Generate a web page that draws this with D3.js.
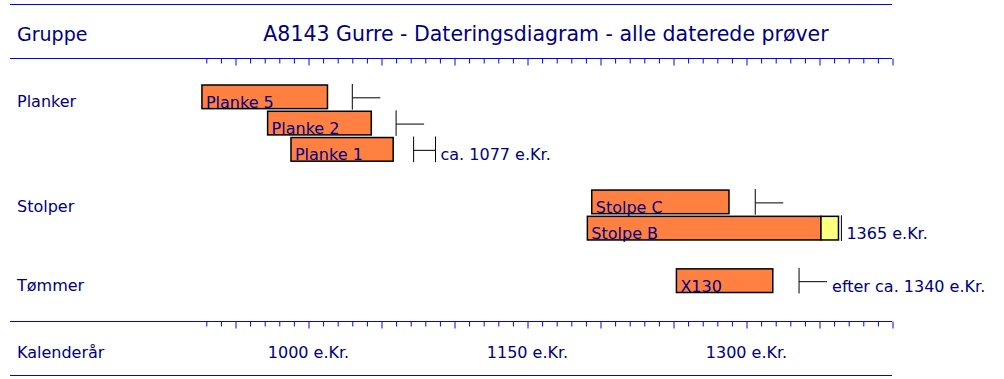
<!DOCTYPE html>
<html>
<head>
<meta charset="utf-8">
<script src="https://cdn.jsdelivr.net/npm/d3@7"></script>
<style>
  body { margin: 0; background: #fff; }
  text { font-family: "Comic Sans MS", "DejaVu Sans", sans-serif; fill: #000080; }
</style>
</head>
<body>
<div id="chart-area"></div>
<script>
// data
const sampleNames  = ["Planke 5", "Planke 2", "Planke 1", "Stolpe C", "Stolpe B", "X130"];
const sampleGroups = ["Planker", "Planker", "Planker", "Stolper", "Stolper", "Tømmer"];
const firstRing    = [927, 972, 988, 1194, 1191, 1252];
const lastHeart    = [1013, 1043, 1058, 1288, 1351, 1318];
const lastSap      = [null, null, null, null, 1363, null];
const fellFrom     = [1030, 1060, 1072, 1306, 1365, 1336];
const fellTo       = [null, null, 1087, null, null, null];
const fellType     = ["after", "after", "range", "after", "exact", "after"];
const fellLabel    = ["", "", "ca. 1077 e.Kr.", "", "1365 e.Kr.", "efter ca. 1340 e.Kr."];
const yearLabels   = [1000, 1150, 1300];
const yearDomain   = [930, 1400];

const title = "A8143 Gurre - Dateringsdiagram - alle daterede prøver";

// canvas
const canvas = { width: 1004, height: 379 };
const lineLeft = 10, lineRight = 892;
const axisTopY = 58.5, axisBottomY = 321.5;
const afterLen = 28;

const svg = d3.select("#chart-area").append("svg")
    .attr("width", canvas.width).attr("height", canvas.height);

// rows: one blank row between groups
let row = -1;
const samples = sampleNames.map((name, i) => {
    if (i > 0 && sampleGroups[i] != sampleGroups[i - 1]) row++;
    row++;
    return { name: name, group: sampleGroups[i], row: row, start: firstRing[i], heart: lastHeart[i],
             sap: lastSap[i], from: fellFrom[i], to: fellTo[i], type: fellType[i], label: fellLabel[i] };
});

// scales
const x = d3.scaleLinear().domain(yearDomain).range([206.3, 892.5]);
const y = d3.scaleBand().domain(d3.range(row + 1)).range([85, 292.5]).paddingInner(0.1).paddingOuter(0);

// frame lines
[4.5, axisTopY, axisBottomY, 375.5].forEach(ly => {
    svg.append("line").attr("x1", lineLeft).attr("x2", lineRight).attr("y1", ly).attr("y2", ly)
        .attr("stroke", "#0000ff").attr("stroke-width", 1);
});

// header
svg.append("text").attr("x", 17).attr("y", 41).attr("font-size", 19).text("Gruppe");
svg.append("text").attr("x", 546).attr("y", 41).attr("font-size", 20.5).attr("text-anchor", "middle").text(title);

// tick axes (top and bottom)
const minorYears = d3.range(yearDomain[0], yearDomain[1] + 1, 10).filter(d => d % 50 != 0);
const majorYears = d3.range(yearDomain[0], yearDomain[1] + 1, 10).filter(d => d % 50 == 0);

[axisTopY, axisBottomY].forEach(ay => {
    const minorAxis = d3.axisBottom(x).tickValues(minorYears).tickSize(5).tickFormat("");
    const majorAxis = d3.axisBottom(x).tickValues(majorYears).tickSize(7).tickFormat("");
    [minorAxis, majorAxis].forEach(a => {
        const g = svg.append("g").attr("transform", "translate(0," + ay + ")").call(a);
        g.select(".domain").remove();
        g.selectAll(".tick line").attr("stroke", "#0000ff");
    });
});

// year labels
svg.append("text").attr("x", 17).attr("y", 358).attr("font-size", 16).text("Kalenderår");
svg.selectAll(".year-label").data(yearLabels).enter().append("text").attr("class", "year-label")
    .attr("x", d => x(d)).attr("y", 358).attr("font-size", 16).attr("text-anchor", "middle")
    .text(d => d + " e.Kr.");

// group labels
const groupFirst = samples.filter((s, i) => i == 0 || s.group != samples[i - 1].group);
svg.selectAll(".group-label").data(groupFirst).enter().append("text").attr("class", "group-label")
    .attr("x", 17).attr("y", d => y(d.row) + y.bandwidth() / 2 + 10).attr("font-size", 16)
    .text(d => d.group);

// bars
const bars = svg.selectAll(".sample").data(samples).enter().append("g").attr("class", "sample");

bars.append("rect")
    .attr("x", d => x(d.start)).attr("y", d => y(d.row))
    .attr("width", d => x(d.heart) - x(d.start)).attr("height", y.bandwidth())
    .attr("fill", "#ff8040").attr("stroke", "#000").attr("stroke-width", 1.5);

bars.filter(d => d.sap != null).append("rect")
    .attr("x", d => x(d.heart)).attr("y", d => y(d.row))
    .attr("width", d => x(d.sap) - x(d.heart)).attr("height", y.bandwidth())
    .attr("fill", "#ffff80").attr("stroke", "#000").attr("stroke-width", 1.5);

bars.append("text")
    .attr("x", d => x(d.start) + 4).attr("y", d => y(d.row) + y.bandwidth() - 1)
    .attr("font-size", 16).text(d => d.name);

// felling markers
const rowTop = d => y(d.row) - 1, rowBottom = d => y(d.row) + y.bandwidth() + 1;
const rowMid = d => y(d.row) + y.bandwidth() / 2 + 1;

bars.append("line")
    .attr("x1", d => x(d.from)).attr("x2", d => x(d.from)).attr("y1", rowTop).attr("y2", rowBottom)
    .attr("stroke", "#000");

bars.filter(d => d.type != "exact").append("line")
    .attr("x1", d => x(d.from))
    .attr("x2", d => d.type == "range" ? x(d.to) : x(d.from) + afterLen)
    .attr("y1", rowMid).attr("y2", rowMid).attr("stroke", "#000");

bars.filter(d => d.type == "range").append("line")
    .attr("x1", d => x(d.to)).attr("x2", d => x(d.to)).attr("y1", rowTop).attr("y2", rowBottom)
    .attr("stroke", "#000");

bars.filter(d => d.label != "").append("text")
    .attr("x", d => (d.type == "range" ? x(d.to) : d.type == "after" ? x(d.from) + afterLen : x(d.from)) + 5)
    .attr("y", d => y(d.row) + y.bandwidth() - 1)
    .attr("font-size", 16).text(d => d.label);
</script>
</body>
</html>
